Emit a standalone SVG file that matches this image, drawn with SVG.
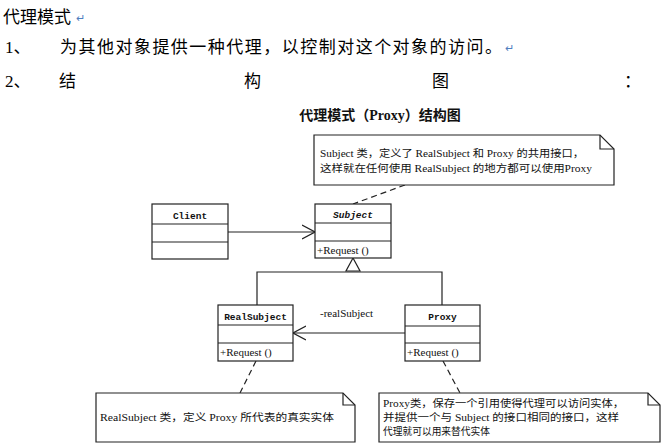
<svg xmlns="http://www.w3.org/2000/svg" width="663" height="447" viewBox="0 0 663 447">
<style>
.doc{font-family:"Liberation Serif","Noto Sans CJK SC",serif;font-size:17px;fill:#000}
.ret{font-family:"Liberation Sans",sans-serif;font-size:11px;fill:#4f7fc0}
.box{fill:#fff;stroke:#222;stroke-width:1.2}
.ln{fill:none;stroke:#222;stroke-width:1.2}
.dash{fill:none;stroke:#222;stroke-width:1.2;stroke-dasharray:6,4}
.cn{font-family:"Liberation Mono",monospace;font-weight:bold;font-size:9.5px;text-anchor:middle;fill:#111}
.op{font-family:"Liberation Serif",serif;font-size:11px;fill:#111}
.nt{font-family:"Liberation Serif","Noto Sans CJK SC",serif;font-size:10px;fill:#111}
.ttl{font-family:"Liberation Serif","Noto Sans CJK SC",serif;font-size:14px;font-weight:bold;text-anchor:middle;fill:#111}
</style>
<defs>
<marker id="open" markerWidth="14" markerHeight="16" refX="13" refY="8" orient="auto" markerUnits="userSpaceOnUse">
<path d="M0,1 L13,8 L0,15" fill="none" stroke="#222" stroke-width="1.2"/>
</marker>
</defs>
<rect width="663" height="447" fill="#fff"/>
<g id="heading">
<text class="doc" x="3" y="23">代理模式</text><text class="ret" x="76" y="22">↵</text>
<text class="doc" x="5" y="53">1、</text>
<text class="doc" x="60" y="53" textLength="442" lengthAdjust="spacing">为其他对象提供一种代理，以控制对这个对象的访问。</text><text class="ret" x="505" y="52">↵</text>
<text class="doc" x="5" y="87">2、</text>
<text class="doc" x="59" y="87">结</text>
<text class="doc" x="244" y="87">构</text>
<text class="doc" x="432" y="87">图</text>
<text class="doc" x="624" y="87">：</text>
</g>
<text class="ttl" x="380" y="120">代理模式（Proxy）结构图</text>
<g id="connectors">
<line class="ln" x1="228" y1="232" x2="315" y2="232" marker-end="url(#open)"/>
<polyline class="ln" points="257,305 257,272 442,272 442,305"/>
<polygon points="353,258 346,271 360,271" fill="#fff" stroke="#222" stroke-width="1.2"/>
<line class="ln" x1="405" y1="333" x2="293" y2="333" marker-end="url(#open)"/>
<text class="op" x="320" y="317">-realSubject</text>
<line class="dash" x1="405" y1="185" x2="353" y2="204"/>
<line class="dash" x1="256" y1="361" x2="240" y2="393"/>
<line class="dash" x1="443" y1="361" x2="460" y2="393"/>
</g>
<g id="client">
<rect class="box" x="152" y="204" width="76" height="55"/>
<line class="ln" x1="152" y1="224" x2="228" y2="224"/>
<line class="ln" x1="152" y1="242" x2="228" y2="242"/>
<text class="cn" x="190" y="219">Client</text>
</g>
<g id="subject">
<rect class="box" x="315" y="204" width="76" height="54"/>
<line class="ln" x1="315" y1="223" x2="391" y2="223"/>
<line class="ln" x1="315" y1="241" x2="391" y2="241"/>
<text class="cn" x="353" y="218" font-style="italic">Subject</text>
<text class="op" x="317" y="254">+Request ()</text>
</g>
<g id="realsubject">
<rect class="box" x="218" y="305" width="75" height="56"/>
<line class="ln" x1="218" y1="325" x2="293" y2="325"/>
<line class="ln" x1="218" y1="343" x2="293" y2="343"/>
<text class="cn" x="255.5" y="320">RealSubject</text>
<text class="op" x="220" y="356">+Request ()</text>
</g>
<g id="proxy">
<rect class="box" x="405" y="305" width="75" height="56"/>
<line class="ln" x1="405" y1="326" x2="480" y2="326"/>
<line class="ln" x1="405" y1="343" x2="480" y2="343"/>
<text class="cn" x="442.5" y="320">Proxy</text>
<text class="op" x="407" y="356">+Request ()</text>
</g>
<g id="note-subject">
<path class="box" d="M314,135 L600,135 L614,149 L614,185 L314,185 Z"/>
<path class="ln" d="M600,135 L600,149 L614,149"/>
<text class="nt" x="320" y="157" textLength="264" lengthAdjust="spacingAndGlyphs">Subject 类，定义了 RealSubject 和 Proxy 的共用接口，</text>
<text class="nt" x="320" y="172" textLength="272" lengthAdjust="spacingAndGlyphs">这样就在任何使用 RealSubject 的地方都可以使用Proxy</text>
</g>
<g id="note-realsubject">
<path class="box" d="M96,393 L343,393 L355,405 L355,442 L96,442 Z"/>
<path class="ln" d="M343,393 L343,405 L355,405"/>
<text class="nt" x="100" y="421" textLength="234" lengthAdjust="spacingAndGlyphs">RealSubject 类，定义 Proxy 所代表的真实实体</text>
</g>
<g id="note-proxy">
<path class="box" d="M379,393 L648,393 L660,405 L660,442 L379,442 Z"/>
<path class="ln" d="M648,393 L648,405 L660,405"/>
<text class="nt" x="383" y="407" textLength="241" lengthAdjust="spacingAndGlyphs">Proxy类，保存一个引用使得代理可以访问实体，</text>
<text class="nt" x="383" y="421" textLength="236" lengthAdjust="spacingAndGlyphs">并提供一个与 Subject 的接口相同的接口，这样</text>
<text class="nt" x="383" y="435" textLength="107" lengthAdjust="spacingAndGlyphs">代理就可以用来替代实体</text>
</g>
</svg>
